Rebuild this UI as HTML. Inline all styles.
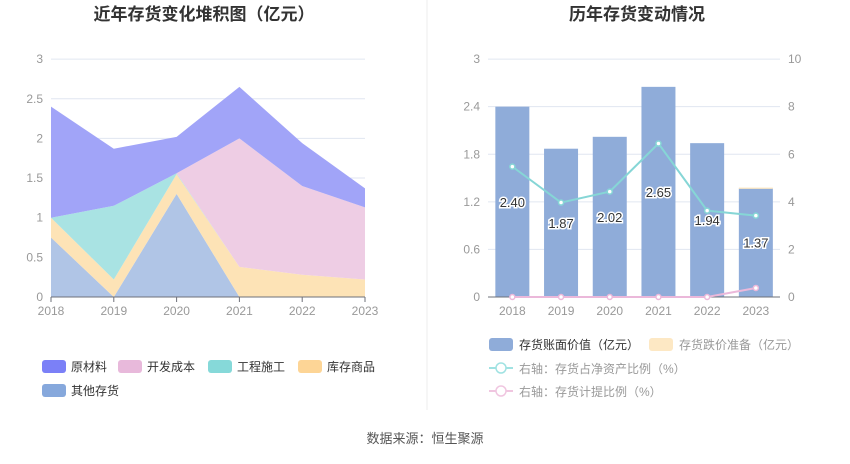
<!DOCTYPE html>
<html><head><meta charset="utf-8"><style>
body{margin:0;background:#fff;width:850px;height:459px;overflow:hidden;font-family:"Liberation Sans","Noto Sans CJK SC",sans-serif;}
svg text{font-family:"Liberation Sans","Noto Sans CJK SC",sans-serif;}
</style></head><body>
<svg id="c" width="850" height="459">
<text x="204" y="20" text-anchor="middle" font-size="17" font-weight="bold" fill="#333">近年存货变化堆积图（亿元）</text>
<text x="637" y="20" text-anchor="middle" font-size="17" font-weight="bold" fill="#333">历年存货变动情况</text>
<line x1="427" y1="0" x2="427" y2="410" stroke="#eee"/>
<g id="L"></g><g id="R"></g>
<text x="425" y="443" text-anchor="middle" font-size="13" fill="#555">数据来源：恒生聚源</text>
</svg>
<script>
const years=['2018','2019','2020','2021','2022','2023'];
const other=[0.75,0,1.3,0,0,0];
const goods=[0.25,0.22,0.25,0.38,0.28,0.22];
const constr=[0,0.93,0.01,0,0,0];
const dev=[0,0,0,1.62,1.12,0.91];
const raw=[1.40,0.72,0.46,0.65,0.54,0.24];
const leftTicks=[0,0.5,1,1.5,2,2.5,3];
const bookVal=[2.40,1.87,2.02,2.65,1.94,1.37];
const provision=[0,0,0,0,0,0.01];
const ratioNet=[5.48,3.97,4.43,6.45,3.63,3.42];
const ratioProv=[0,0,0,0,0,0.38];
const rightTicksL=[0,0.6,1.2,1.8,2.4,3];
const rightTicksR=[0,2,4,6,8,10];
const NS='http://www.w3.org/2000/svg';
function mk(p,t,a,txt){const e=document.createElementNS(NS,t);for(const k in a)e.setAttribute(k,a[k]);if(txt!==undefined)e.textContent=txt;p.appendChild(e);return e;}
const L=document.getElementById('L'),R=document.getElementById('R');
const lx=i=>51+i*62.8, ly=v=>297-v*79.3;
leftTicks.forEach(t=>{
 if(t>0){const g=mk(L,'line',{x1:51,x2:365,y1:ly(t),y2:ly(t),stroke:'#e0e6f1'});}
 const tx=mk(L,'text',{x:43,y:ly(t)+4,'text-anchor':'end','font-size':12,fill:'#999'},String(t));
});
const layers=[[other,'#b0c5e6','other-area'],[goods,'#fde3b6','goods-area'],[constr,'#a9e3e3','construction-area'],[dev,'#eecde4','development-area'],[raw,'#a1a4f8','raw-material-area']];
let base=years.map(()=>0);
layers.forEach(([arr,col,nm])=>{
 const top=base.map((b,i)=>b+arr[i]);
 let d='M'+top.map((v,i)=>lx(i)+','+ly(v)).join('L');
 for(let i=years.length-1;i>=0;i--)d+='L'+lx(i)+','+ly(base[i]);
 const p=mk(L,'path',{d:d+'Z',fill:col});
 
 base=top;
});
mk(L,'line',{x1:51,x2:365,y1:297,y2:297,stroke:'#6e7079'});
years.forEach((y,i)=>{mk(L,'line',{x1:lx(i),x2:lx(i),y1:297,y2:302,stroke:'#6e7079'});
 const t=mk(L,'text',{x:lx(i),y:315,'text-anchor':'middle','font-size':12,fill:'#999'},y);});
const lleg=[['原材料','#7b80f7',42,366],['开发成本','#e8b9db',118,366],['工程施工','#86d9d9',208,366],['库存商品','#fdd596',298,366],['其他存货','#86a8dc',42,390]];
lleg.forEach(([n,c,x,y])=>{const g=mk(L,'g',{});
 mk(g,'rect',{x:x,y:y-6,width:24,height:13,rx:3,fill:c});mk(g,'text',{x:x+29,y:y+5,'font-size':12,fill:'#333'},n);});
const band=48.7, rx=i=>488+band*(i+0.5), ryL=v=>297-v*79.3, ryR=v=>297-v*23.79;
rightTicksL.forEach((t,k)=>{
 if(t>0){const g=mk(R,'line',{x1:488,x2:780,y1:ryL(t),y2:ryL(t),stroke:'#e0e6f1'});}
 const a=mk(R,'text',{x:480,y:ryL(t)+4,'text-anchor':'end','font-size':12,fill:'#999'},t===0?'0':t.toFixed(1).replace(/\.0$/,''));
});
rightTicksR.forEach(t=>{const a=mk(R,'text',{x:788,y:ryR(t)+4,'font-size':12,fill:'#999'},String(t));});
years.forEach((y,i)=>{
 const b=mk(R,'rect',{x:rx(i)-17,y:ryL(bookVal[i]),width:34,height:297-ryL(bookVal[i]),fill:'#8facd9'});
 if(provision[i]>0){const p=mk(R,'rect',{x:rx(i)-17,y:ryL(bookVal[i]+provision[i]),width:34,height:ryL(bookVal[i])-ryL(bookVal[i]+provision[i])+0.5,fill:'#fde8c4'});}
 const t=mk(R,'text',{x:rx(i),y:(ryL(bookVal[i])+297)/2+5,'text-anchor':'middle','font-size':13,fill:'#333',stroke:'#fff','stroke-width':3,'paint-order':'stroke'},bookVal[i].toFixed(2));
});
mk(R,'line',{x1:488,x2:780,y1:297,y2:297,stroke:'#6e7079'});
years.forEach((y,i)=>{const t=mk(R,'text',{x:rx(i),y:315,'text-anchor':'middle','font-size':12,fill:'#999'},y);});
[[ratioNet,'#86d6d6','net-asset-ratio-line'],[ratioProv,'#ebb8da','provision-ratio-line']].forEach(([arr,c,nm])=>{
 const l=mk(R,'polyline',{points:arr.map((v,i)=>rx(i)+','+ryR(v)).join(' '),fill:'none',stroke:c,'stroke-width':2});
 arr.forEach((v,i)=>{const d=mk(R,'circle',{cx:rx(i),cy:ryR(v),r:2.5,fill:'#fff',stroke:c,'stroke-width':1.5});});
});
const rleg=[['存货账面价值（亿元）',489,344,'rect','#8facd9','#333'],['存货跌价准备（亿元）',649,344,'rect','#fde8c4','#999'],['右轴：存货占净资产比例（%）',489,368,'line','#a0e2e2','#999'],['右轴：存货计提比例（%）',489,391,'line','#f0c6e0','#999']];
rleg.forEach(([n,x,y,k,c,tc])=>{const g=mk(R,'g',{});
 if(k==='rect')mk(g,'rect',{x:x,y:y-6,width:24,height:13,rx:3,fill:c});
 else{mk(g,'line',{x1:x,x2:x+24,y1:y,y2:y,stroke:c,'stroke-width':2});mk(g,'circle',{cx:x+12,cy:y,r:5,fill:'#fff',stroke:c,'stroke-width':1.5});}
 mk(g,'text',{x:x+30,y:y+5,'font-size':12,fill:tc},n);});
</script>
</body></html>
